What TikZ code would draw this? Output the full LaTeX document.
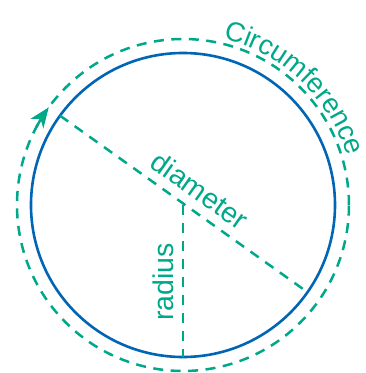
\documentclass[tikz,border=0pt]{standalone}
\usepackage{fontspec}
\setmainfont{Liberation Sans}
\usetikzlibrary{arrows.meta,decorations.text}
\definecolor{grn}{RGB}{0,168,138}
\definecolor{blu}{RGB}{0,101,181}
\begin{document}
\begin{tikzpicture}[x=1pt,y=1pt,
  bigcirc/.style={circle,draw=blu,line width=2.6pt,inner sep=0pt,outer sep=0pt,minimum size=304pt},
  dashcirc/.style={circle,draw=grn,line width=2.5pt,dash pattern=on 10pt off 7.5pt,inner sep=0pt,outer sep=0pt,minimum size=332pt},
  dashline/.style={draw=grn,line width=2.5pt,dash pattern=on 10pt off 8pt},
  lbl/.style={text=grn,font=\fontsize{28.5}{32}\selectfont,inner sep=0pt,outer sep=0pt}]
\useasboundingbox (-183,-168) rectangle (182,205);
\coordinate (O) at (0,0);
\node[dashcirc] (D) at (O) {};
\node[bigcirc] (C) at (O) {};
\draw[dashline] (C.144.7) -- (C.-35.3);
\draw[dashline] (O) -- (C.south);
\draw[grn,line width=2.5pt,-{Stealth[length=20pt,width=16pt,inset=6pt]}] (D.152) arc[start angle=152,end angle=144,radius=166];
\node[lbl,anchor=south,rotate=-35.3] (dia) at (11,6) {diameter};
\node[lbl,anchor=south,rotate=90] (rad) at (-9,-77) {radius};
\path[decorate,decoration={text along path,text align=center,text color=grn,
  text={|\fontsize{27.5}{31}\selectfont|Circumference}}]
  (96.5:171) arc[start angle=96.5,end angle=-3.5,radius=171];
\end{tikzpicture}
\end{document}
